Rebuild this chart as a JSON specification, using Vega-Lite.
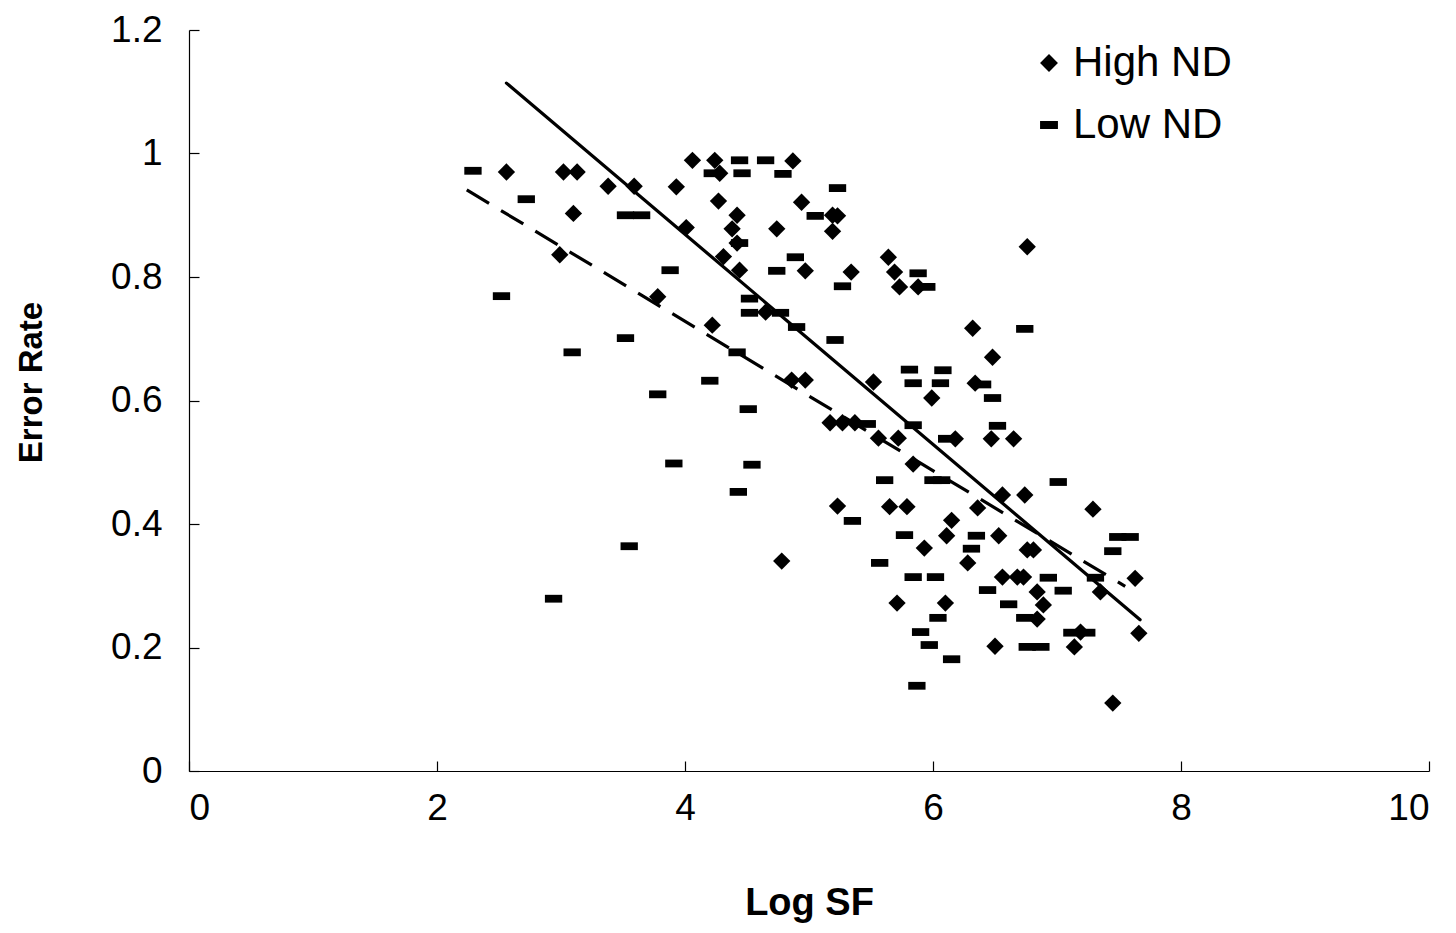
{
  "$schema": "https://vega.github.io/schema/vega-lite/v6.json",
  "width": 1240,
  "height": 741,
  "autosize": {"type": "none"},
  "padding": {"left": 189, "top": 30, "right": 27, "bottom": 162},
  "background": "white",
  "config": {
    "view": {"stroke": null},
    "axis": {
      "grid": false,
      "domainColor": "black",
      "domainWidth": 1.2,
      "tickColor": "black",
      "tickWidth": 1.2,
      "tickSize": -10,
      "labelFont": "Liberation Sans",
      "labelFontSize": 37,
      "labelColor": "black",
      "titleFont": "Liberation Sans",
      "titleFontWeight": "bold",
      "titleFontSize": 36,
      "titleColor": "black"
    }
  },
  "datasets": {
    "points": [
      {"series": "High ND", "logsf": 2.56, "err": 0.970},
      {"series": "High ND", "logsf": 3.02, "err": 0.970},
      {"series": "High ND", "logsf": 3.13, "err": 0.970},
      {"series": "High ND", "logsf": 3.10, "err": 0.903},
      {"series": "High ND", "logsf": 2.99, "err": 0.836},
      {"series": "High ND", "logsf": 3.38, "err": 0.947},
      {"series": "High ND", "logsf": 3.59, "err": 0.947},
      {"series": "High ND", "logsf": 3.78, "err": 0.768},
      {"series": "High ND", "logsf": 3.93, "err": 0.946},
      {"series": "High ND", "logsf": 4.01, "err": 0.880},
      {"series": "High ND", "logsf": 4.06, "err": 0.989},
      {"series": "High ND", "logsf": 4.24, "err": 0.989},
      {"series": "High ND", "logsf": 4.28, "err": 0.968},
      {"series": "High ND", "logsf": 4.27, "err": 0.923},
      {"series": "High ND", "logsf": 4.22, "err": 0.722},
      {"series": "High ND", "logsf": 4.31, "err": 0.833},
      {"series": "High ND", "logsf": 4.38, "err": 0.878},
      {"series": "High ND", "logsf": 4.42, "err": 0.900},
      {"series": "High ND", "logsf": 4.42, "err": 0.855},
      {"series": "High ND", "logsf": 4.44, "err": 0.811},
      {"series": "High ND", "logsf": 4.65, "err": 0.743},
      {"series": "High ND", "logsf": 4.87, "err": 0.988},
      {"series": "High ND", "logsf": 4.94, "err": 0.921},
      {"series": "High ND", "logsf": 4.74, "err": 0.878},
      {"series": "High ND", "logsf": 5.19, "err": 0.900},
      {"series": "High ND", "logsf": 5.23, "err": 0.899},
      {"series": "High ND", "logsf": 5.19, "err": 0.874},
      {"series": "High ND", "logsf": 4.97, "err": 0.810},
      {"series": "High ND", "logsf": 5.34, "err": 0.808},
      {"series": "High ND", "logsf": 5.64, "err": 0.832},
      {"series": "High ND", "logsf": 5.69, "err": 0.808},
      {"series": "High ND", "logsf": 5.73, "err": 0.784},
      {"series": "High ND", "logsf": 5.88, "err": 0.784},
      {"series": "High ND", "logsf": 6.32, "err": 0.717},
      {"series": "High ND", "logsf": 6.48, "err": 0.670},
      {"series": "High ND", "logsf": 4.86, "err": 0.633},
      {"series": "High ND", "logsf": 4.97, "err": 0.633},
      {"series": "High ND", "logsf": 5.52, "err": 0.630},
      {"series": "High ND", "logsf": 6.34, "err": 0.628},
      {"series": "High ND", "logsf": 6.76, "err": 0.849},
      {"series": "High ND", "logsf": 5.99, "err": 0.604},
      {"series": "High ND", "logsf": 5.17, "err": 0.564},
      {"series": "High ND", "logsf": 5.27, "err": 0.564},
      {"series": "High ND", "logsf": 5.37, "err": 0.564},
      {"series": "High ND", "logsf": 5.56, "err": 0.539},
      {"series": "High ND", "logsf": 5.72, "err": 0.539},
      {"series": "High ND", "logsf": 6.18, "err": 0.538},
      {"series": "High ND", "logsf": 6.47, "err": 0.538},
      {"series": "High ND", "logsf": 6.65, "err": 0.538},
      {"series": "High ND", "logsf": 5.84, "err": 0.497},
      {"series": "High ND", "logsf": 5.23, "err": 0.429},
      {"series": "High ND", "logsf": 5.65, "err": 0.428},
      {"series": "High ND", "logsf": 5.79, "err": 0.428},
      {"series": "High ND", "logsf": 6.15, "err": 0.406},
      {"series": "High ND", "logsf": 6.11, "err": 0.381},
      {"series": "High ND", "logsf": 5.93, "err": 0.361},
      {"series": "High ND", "logsf": 6.28, "err": 0.337},
      {"series": "High ND", "logsf": 6.36, "err": 0.426},
      {"series": "High ND", "logsf": 6.56, "err": 0.447},
      {"series": "High ND", "logsf": 6.74, "err": 0.447},
      {"series": "High ND", "logsf": 6.53, "err": 0.381},
      {"series": "High ND", "logsf": 6.76, "err": 0.358},
      {"series": "High ND", "logsf": 6.81, "err": 0.358},
      {"series": "High ND", "logsf": 7.29, "err": 0.424},
      {"series": "High ND", "logsf": 7.63, "err": 0.312},
      {"series": "High ND", "logsf": 7.35, "err": 0.290},
      {"series": "High ND", "logsf": 7.66, "err": 0.223},
      {"series": "High ND", "logsf": 6.56, "err": 0.314},
      {"series": "High ND", "logsf": 6.68, "err": 0.314},
      {"series": "High ND", "logsf": 6.73, "err": 0.314},
      {"series": "High ND", "logsf": 6.84, "err": 0.290},
      {"series": "High ND", "logsf": 6.89, "err": 0.269},
      {"series": "High ND", "logsf": 6.84, "err": 0.246},
      {"series": "High ND", "logsf": 5.71, "err": 0.272},
      {"series": "High ND", "logsf": 6.10, "err": 0.272},
      {"series": "High ND", "logsf": 6.50, "err": 0.202},
      {"series": "High ND", "logsf": 7.19, "err": 0.225},
      {"series": "High ND", "logsf": 7.14, "err": 0.201},
      {"series": "High ND", "logsf": 7.45, "err": 0.110},
      {"series": "High ND", "logsf": 4.78, "err": 0.340},
      {"series": "Low ND", "logsf": 2.29, "err": 0.972},
      {"series": "Low ND", "logsf": 2.72, "err": 0.926},
      {"series": "Low ND", "logsf": 2.52, "err": 0.769},
      {"series": "Low ND", "logsf": 3.52, "err": 0.900},
      {"series": "Low ND", "logsf": 3.65, "err": 0.900},
      {"series": "Low ND", "logsf": 3.88, "err": 0.811},
      {"series": "Low ND", "logsf": 3.09, "err": 0.678},
      {"series": "Low ND", "logsf": 3.52, "err": 0.701},
      {"series": "Low ND", "logsf": 4.20, "err": 0.632},
      {"series": "Low ND", "logsf": 3.78, "err": 0.610},
      {"series": "Low ND", "logsf": 4.51, "err": 0.586},
      {"series": "Low ND", "logsf": 3.91, "err": 0.498},
      {"series": "Low ND", "logsf": 4.54, "err": 0.496},
      {"series": "Low ND", "logsf": 4.43, "err": 0.452},
      {"series": "Low ND", "logsf": 3.55, "err": 0.364},
      {"series": "Low ND", "logsf": 2.94, "err": 0.279},
      {"series": "Low ND", "logsf": 4.22, "err": 0.968},
      {"series": "Low ND", "logsf": 4.44, "err": 0.989},
      {"series": "Low ND", "logsf": 4.65, "err": 0.989},
      {"series": "Low ND", "logsf": 4.46, "err": 0.968},
      {"series": "Low ND", "logsf": 4.79, "err": 0.967},
      {"series": "Low ND", "logsf": 5.23, "err": 0.944},
      {"series": "Low ND", "logsf": 5.05, "err": 0.899},
      {"series": "Low ND", "logsf": 4.89, "err": 0.832},
      {"series": "Low ND", "logsf": 4.74, "err": 0.810},
      {"series": "Low ND", "logsf": 4.44, "err": 0.855},
      {"series": "Low ND", "logsf": 4.52, "err": 0.765},
      {"series": "Low ND", "logsf": 4.52, "err": 0.742},
      {"series": "Low ND", "logsf": 4.77, "err": 0.742},
      {"series": "Low ND", "logsf": 4.90, "err": 0.719},
      {"series": "Low ND", "logsf": 5.21, "err": 0.698},
      {"series": "Low ND", "logsf": 5.27, "err": 0.785},
      {"series": "Low ND", "logsf": 5.88, "err": 0.806},
      {"series": "Low ND", "logsf": 5.95, "err": 0.784},
      {"series": "Low ND", "logsf": 4.42, "err": 0.678},
      {"series": "Low ND", "logsf": 5.81, "err": 0.650},
      {"series": "Low ND", "logsf": 6.08, "err": 0.649},
      {"series": "Low ND", "logsf": 5.84, "err": 0.628},
      {"series": "Low ND", "logsf": 6.06, "err": 0.628},
      {"series": "Low ND", "logsf": 6.40, "err": 0.626},
      {"series": "Low ND", "logsf": 6.74, "err": 0.716},
      {"series": "Low ND", "logsf": 6.48, "err": 0.604},
      {"series": "Low ND", "logsf": 5.47, "err": 0.562},
      {"series": "Low ND", "logsf": 5.84, "err": 0.560},
      {"series": "Low ND", "logsf": 6.52, "err": 0.559},
      {"series": "Low ND", "logsf": 6.11, "err": 0.538},
      {"series": "Low ND", "logsf": 5.61, "err": 0.471},
      {"series": "Low ND", "logsf": 6.00, "err": 0.471},
      {"series": "Low ND", "logsf": 6.07, "err": 0.471},
      {"series": "Low ND", "logsf": 7.01, "err": 0.468},
      {"series": "Low ND", "logsf": 5.35, "err": 0.405},
      {"series": "Low ND", "logsf": 5.77, "err": 0.382},
      {"series": "Low ND", "logsf": 6.35, "err": 0.381},
      {"series": "Low ND", "logsf": 6.31, "err": 0.360},
      {"series": "Low ND", "logsf": 5.57, "err": 0.337},
      {"series": "Low ND", "logsf": 5.84, "err": 0.314},
      {"series": "Low ND", "logsf": 6.02, "err": 0.314},
      {"series": "Low ND", "logsf": 6.44, "err": 0.293},
      {"series": "Low ND", "logsf": 6.61, "err": 0.270},
      {"series": "Low ND", "logsf": 6.04, "err": 0.248},
      {"series": "Low ND", "logsf": 5.90, "err": 0.225},
      {"series": "Low ND", "logsf": 5.97, "err": 0.204},
      {"series": "Low ND", "logsf": 6.15, "err": 0.181},
      {"series": "Low ND", "logsf": 5.87, "err": 0.138},
      {"series": "Low ND", "logsf": 6.93, "err": 0.313},
      {"series": "Low ND", "logsf": 7.05, "err": 0.292},
      {"series": "Low ND", "logsf": 6.74, "err": 0.248},
      {"series": "Low ND", "logsf": 6.76, "err": 0.201},
      {"series": "Low ND", "logsf": 6.87, "err": 0.201},
      {"series": "Low ND", "logsf": 7.12, "err": 0.224},
      {"series": "Low ND", "logsf": 7.24, "err": 0.224},
      {"series": "Low ND", "logsf": 7.49, "err": 0.379},
      {"series": "Low ND", "logsf": 7.59, "err": 0.379},
      {"series": "Low ND", "logsf": 7.45, "err": 0.356},
      {"series": "Low ND", "logsf": 7.31, "err": 0.313}
    ],
    "fits": [
      {"series": "High ND", "logsf": 2.56, "err": 1.114},
      {"series": "High ND", "logsf": 7.67, "err": 0.245},
      {"series": "Low ND", "logsf": 2.24, "err": 0.941},
      {"series": "Low ND", "logsf": 7.55, "err": 0.299}
    ]
  },
  "layer": [
    {
      "data": {"name": "fits"},
      "transform": [{"filter": "datum.series === 'High ND'"}],
      "mark": {"type": "line", "color": "black", "strokeWidth": 3.2, "strokeCap": "round"},
      "encoding": {
        "x": {"field": "logsf", "type": "quantitative"},
        "y": {"field": "err", "type": "quantitative"}
      }
    },
    {
      "data": {"name": "fits"},
      "transform": [{"filter": "datum.series === 'Low ND'"}],
      "mark": {"type": "line", "color": "black", "strokeWidth": 3.2, "strokeDash": [26, 14]},
      "encoding": {
        "x": {"field": "logsf", "type": "quantitative"},
        "y": {"field": "err", "type": "quantitative"}
      }
    },
    {
      "data": {"name": "points"},
      "mark": {"type": "point", "filled": true, "opacity": 1, "color": "black", "size": 300},
      "encoding": {
        "x": {
          "field": "logsf",
          "type": "quantitative",
          "scale": {"domain": [0, 10], "nice": false, "zero": true},
          "axis": {
            "title": "Log SF",
            "titleFontSize": 38,
            "values": [0, 2, 4, 6, 8, 10],
            "format": "~g",
            "labelPadding": 29,
            "titlePadding": 58
          }
        },
        "y": {
          "field": "err",
          "type": "quantitative",
          "scale": {"domain": [0, 1.2], "nice": false},
          "axis": {
            "title": "Error Rate",
            "titleFontSize": 33,
            "titleY": 352,
            "values": [0, 0.2, 0.4, 0.6, 0.8, 1, 1.2],
            "format": "~g",
            "labelPadding": 37,
            "titlePadding": 62
          }
        },
        "shape": {
          "field": "series",
          "type": "nominal",
          "scale": {
            "domain": ["High ND", "Low ND"],
            "range": ["diamond", "M-1,-0.45L1,-0.45L1,0.45L-1,0.45Z"]
          },
          "legend": {
            "title": null,
            "orient": "none",
            "legendX": 839,
            "legendY": 12,
            "padding": 0,
            "rowPadding": 20,
            "labelFont": "Liberation Sans",
            "labelFontSize": 42,
            "labelColor": "black",
            "labelOffset": 3,
            "symbolSize": 320,
            "symbolFillColor": "black",
            "symbolStrokeColor": "black",
            "symbolStrokeWidth": 0,
            "symbolOpacity": 1
          }
        }
      }
    }
  ]
}
